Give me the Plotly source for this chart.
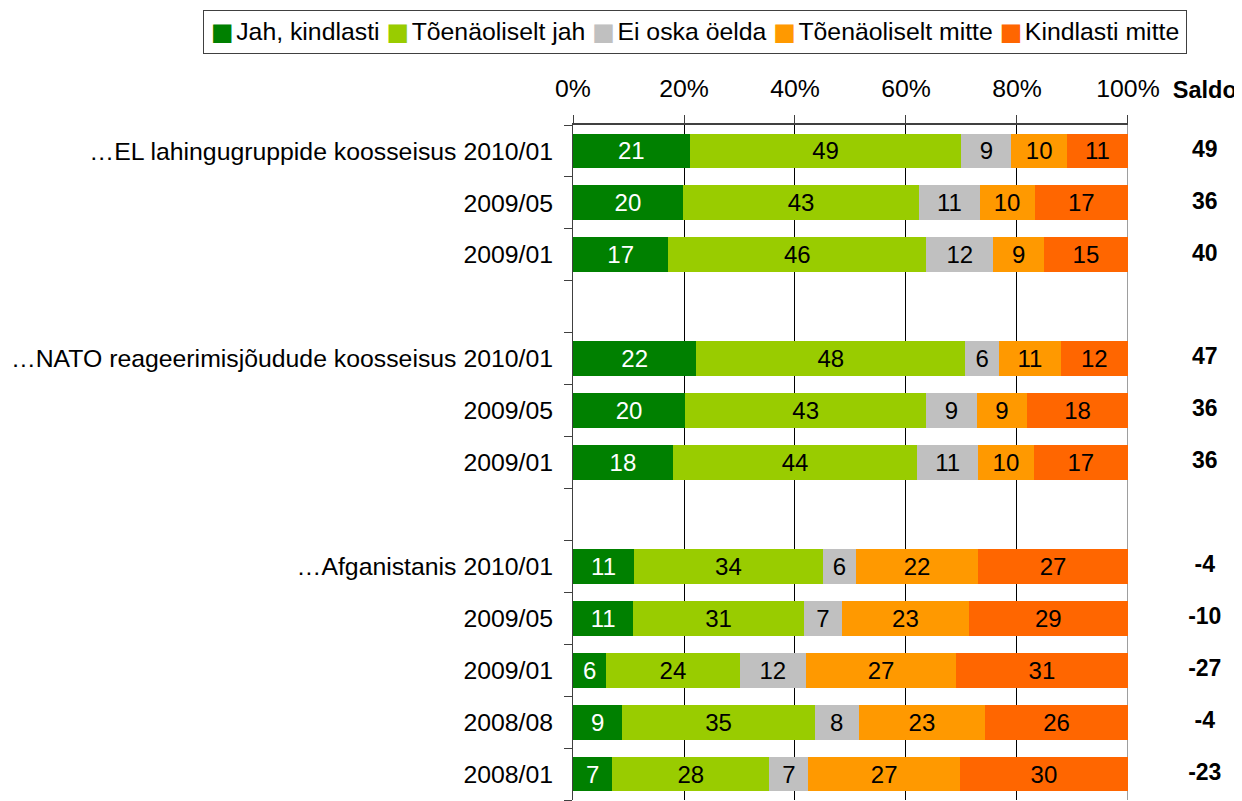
import plotly.graph_objects as go

# rows top to bottom; "" = empty spacer row
row_labels = [
    "…EL lahingugruppide koosseisus 2010/01", "2009/05", "2009/01", "",
    "…NATO reageerimisjõudude koosseisus 2010/01", "2009/05", "2009/01", "",
    "…Afganistanis 2010/01", "2009/05", "2009/01", "2008/08", "2008/01",
]
jah_kindlasti = [21, 20, 17, None, 22, 20, 18, None, 11, 11, 6, 9, 7]
toen_jah = [49, 43, 46, None, 48, 43, 44, None, 34, 31, 24, 35, 28]
ei_oska = [9, 11, 12, None, 6, 9, 11, None, 6, 7, 12, 8, 7]
toen_mitte = [10, 10, 9, None, 11, 9, 10, None, 22, 23, 27, 23, 27]
kindlasti_mitte = [11, 17, 15, None, 12, 18, 17, None, 27, 29, 31, 26, 30]
saldo = [49, 36, 40, None, 47, 36, 36, None, -4, -10, -27, -4, -23]

series = [
    ("Jah, kindlasti", jah_kindlasti, "#008000", "white"),
    ("Tõenäoliselt jah", toen_jah, "#99CC00", "black"),
    ("Ei oska öelda", ei_oska, "#C0C0C0", "black"),
    ("Tõenäoliselt mitte", toen_mitte, "#FF9900", "black"),
    ("Kindlasti mitte", kindlasti_mitte, "#FF6600", "black"),
]

FONT = "Liberation Sans, Arial, sans-serif"
ypos = list(range(len(row_labels)))

fig = go.Figure()
for name, vals, color, tcolor in series:
    fig.add_trace(go.Bar(
        y=ypos, x=vals, name=name, orientation="h",
        marker=dict(color=color, line=dict(width=0)),
        text=[("" if v is None else str(v)) for v in vals],
        textposition="inside", insidetextanchor="middle", textangle=0,
        textfont=dict(color=tcolor, size=24, family=FONT),
        showlegend=False,
    ))

# saldo column on its own small x axis
fig.add_trace(go.Scatter(
    x=[0.5 if s is not None else None for s in saldo], y=ypos, mode="text",
    text=[("" if s is None else f"<b>{s}</b>") for s in saldo],
    textfont=dict(size=23, color="black", family=FONT),
    xaxis="x2", yaxis="y", showlegend=False, hoverinfo="skip",
))

# legend drawn as one boxed line of text
legend_text = " ".join(
    f'<span style="color:{c};font-family:DejaVu Sans;font-size:24px">■</span>'
    f'<span style="font-size:9px">&nbsp;</span>{n}'
    for n, _, c, _ in series
)
fig.add_annotation(x=0.181, y=1.1378, xref="paper", yref="paper",
                   xanchor="center", yanchor="middle", text=legend_text,
                   showarrow=False, font=dict(size=24.8, color="black", family=FONT),
                   bordercolor="#404040", borderwidth=1, borderpad=7, bgcolor="white")

# body margin of the page shifts the figure by 8px, so margins compensate
fig.update_layout(
    width=1242, height=801,
    margin=dict(l=565, r=2, t=117, b=9, autoexpand=False),
    barmode="stack", barnorm="percent", bargap=0.33,
    paper_bgcolor="white", plot_bgcolor="white",
    font=dict(family=FONT, size=24.8, color="black"),
    uniformtext=dict(minsize=24, mode="show"),
    showlegend=False,
    xaxis=dict(domain=[0, 0.8222], side="top", range=[0, 100], dtick=20, ticksuffix="%",
               showgrid=True, gridcolor="black", gridwidth=1,
               showline=True, linecolor="#404040", linewidth=2,
               ticks="outside", ticklen=8, tickcolor="#404040",
               ticklabelstandoff=8, zeroline=False, fixedrange=True),
    xaxis2=dict(domain=[0.872, 1], side="top", range=[0, 1], anchor="y",
                tickmode="array", tickvals=[0.5], ticktext=["<b>Saldo</b>"],
                ticks="", showgrid=False, showline=False, zeroline=False,
                ticklabelstandoff=21, tickfont=dict(size=23.5), fixedrange=True),
    yaxis=dict(range=[12.5, -0.5], tickmode="array", tickvals=ypos, ticktext=row_labels,
               ticks="", showgrid=False, zeroline=False,
               showline=True, linecolor="#404040", linewidth=1,
               minor=dict(tick0=-0.5, dtick=1, ticks="outside", ticklen=8,
                          tickcolor="#404040", showgrid=False),
               ticklabelstandoff=14, fixedrange=True),
)
fig.add_shape(type="line", xref="x", yref="paper", x0=100, x1=100, y0=0, y1=1,
              line=dict(color="#808080", width=1.5), layer="below")

fig.write_html("out.html")
